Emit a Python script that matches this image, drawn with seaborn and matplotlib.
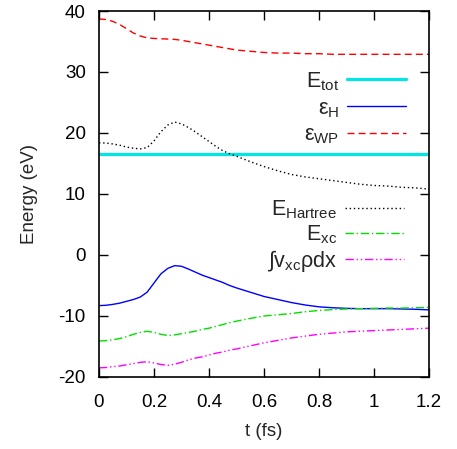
import numpy as np
import pandas as pd
import matplotlib
matplotlib.use("Agg")
import matplotlib.pyplot as plt
import seaborn as sns

# time axis (fs)
t = [0.0, 0.025, 0.05, 0.075, 0.1, 0.125, 0.15, 0.175, 0.2, 0.225, 0.25, 0.275, 0.3,
     0.325, 0.35, 0.375, 0.4, 0.425, 0.45, 0.475, 0.5, 0.55, 0.6, 0.65, 0.7, 0.75,
     0.8, 0.85, 0.9, 0.95, 1.0, 1.05, 1.1, 1.15, 1.2]

# energies (eV)
e_tot = [16.5, 16.5, 16.5, 16.5, 16.5, 16.5, 16.5, 16.5, 16.5, 16.5, 16.5, 16.5, 16.5,
         16.5, 16.5, 16.5, 16.5, 16.5, 16.5, 16.5, 16.5, 16.5, 16.5, 16.5, 16.5, 16.5,
         16.5, 16.5, 16.5, 16.5, 16.5, 16.5, 16.5, 16.5, 16.5]
eps_h = [-8.3, -8.25, -8.1, -7.9, -7.6, -7.3, -6.9, -6.1, -4.6, -3.1, -2.2, -1.75, -1.85,
         -2.3, -2.8, -3.3, -3.7, -4.1, -4.5, -5.0, -5.4, -6.1, -6.8, -7.3, -7.8, -8.2,
         -8.5, -8.65, -8.75, -8.8, -8.8, -8.8, -8.85, -8.9, -9.0]
eps_wp = [38.7, 38.6, 38.3, 37.8, 37.1, 36.4, 35.9, 35.6, 35.5, 35.45, 35.4, 35.35, 35.2,
          35.0, 34.8, 34.6, 34.4, 34.2, 34.0, 33.8, 33.6, 33.4, 33.2, 33.1, 33.1, 33.0,
          33.0, 32.9, 32.9, 32.9, 32.9, 32.9, 32.9, 32.9, 32.9]
e_hartree = [18.4, 18.35, 18.2, 18.0, 17.7, 17.5, 17.4, 17.6, 18.7, 20.2, 21.3, 21.8, 21.5,
             20.9, 20.2, 19.4, 18.6, 17.8, 17.1, 16.6, 16.2, 15.3, 14.5, 13.8, 13.2, 12.8,
             12.5, 12.2, 11.9, 11.6, 11.4, 11.3, 11.1, 11.0, 10.8]
e_xc = [-14.1, -14.05, -13.9, -13.7, -13.4, -13.0, -12.7, -12.5, -12.7, -13.0, -13.2, -13.1, -12.9,
        -12.7, -12.5, -12.2, -12.0, -11.7, -11.4, -11.1, -10.85, -10.4, -10.0, -9.8, -9.6, -9.3,
        -9.1, -8.95, -8.85, -8.8, -8.75, -8.7, -8.7, -8.65, -8.6]
int_vxc = [-18.5, -18.45, -18.3, -18.2, -18.0, -17.8, -17.6, -17.5, -17.7, -17.95, -18.1, -17.9, -17.6,
           -17.2, -16.9, -16.7, -16.4, -16.1, -15.9, -15.6, -15.4, -14.9, -14.4, -14.0, -13.6, -13.3,
           -13.0, -12.8, -12.6, -12.5, -12.4, -12.3, -12.2, -12.1, -12.0]

sns.set_style("ticks")
plt.rcParams["font.family"] = ["Liberation Sans", "DejaVu Sans"]
plt.rcParams["mathtext.fontset"] = "custom"
plt.rcParams["mathtext.rm"] = "Liberation Sans"
plt.rcParams["mathtext.it"] = "Liberation Sans:italic"
plt.rcParams["axes.unicode_minus"] = False

df = pd.DataFrame({"t": t, "etot": e_tot, "eh": eps_h, "ewp": eps_wp,
                   "ehar": e_hartree, "exc": e_xc, "vxc": int_vxc})

fig = plt.figure(figsize=(4.57, 4.49), dpi=100)
ax = fig.add_axes([0.2166, 0.1604, 0.7221, 0.8151])

styles = [
    ("etot", r"E$_{\rm tot}$", "#00e5e5", 2.3, "-"),
    ("eh", r"ε$_{\rm H}$", "#0000ff", 1.0, "-"),
    ("ewp", r"ε$_{\rm WP}$", "#ff0000", 1.0, (0, (5, 3))),
    ("ehar", r"E$_{\rm Hartree}$", "#000000", 1.0, (0, (1, 2))),
    ("exc", r"E$_{\rm xc}$", "#00e000", 1.0, (0, (6, 2, 1, 2))),
    ("vxc", r"∫v$_{\rm xc}$ρdx", "#ff00ff", 1.0, (0, (6, 2, 1, 2, 1, 2))),
]
for col, lab, c, lw, ls in styles:
    sns.lineplot(data=df, x="t", y=col, ax=ax, color=c, lw=lw, ls=ls, label=lab)

ax.set_xlim(0, 1.2)
ax.set_ylim(-20, 40)
ax.set_xticks([0, 0.2, 0.4, 0.6, 0.8, 1.0, 1.2])
ax.set_xticklabels(["0", "0.2", "0.4", "0.6", "0.8", "1", "1.2"])
ax.set_yticks([-20, -10, 0, 10, 20, 30, 40])
ax.tick_params(direction="in", length=6.5, width=1.0, top=True, right=True,
               labelsize=13.5, colors="black")
ax.tick_params(axis="x", pad=12)
ax.tick_params(axis="y", pad=9.5)
for s in ax.spines.values():
    s.set_linewidth(1.2)
    s.set_color("black")
ax.set_xlabel("t (fs)", fontsize=13.5, labelpad=9)
ax.set_ylabel("Energy (eV)", fontsize=13.5, labelpad=15)

handles, labels = ax.get_legend_handles_labels()
leg_kw = dict(frameon=False, markerfirst=False, fontsize=15.5, handlelength=2.74,
              handletextpad=0.37, borderpad=0, borderaxespad=0)
leg1 = ax.legend(handles[:3], labels[:3], loc="upper right",
                 bbox_to_anchor=(0.93, 0.839), labelspacing=0.25, **leg_kw)
ax.add_artist(leg1)
ax.legend(handles[3:], labels[3:], loc="upper right",
          bbox_to_anchor=(0.925, 0.488), labelspacing=0.1, **leg_kw)

fig.savefig("out.png", dpi=100)
